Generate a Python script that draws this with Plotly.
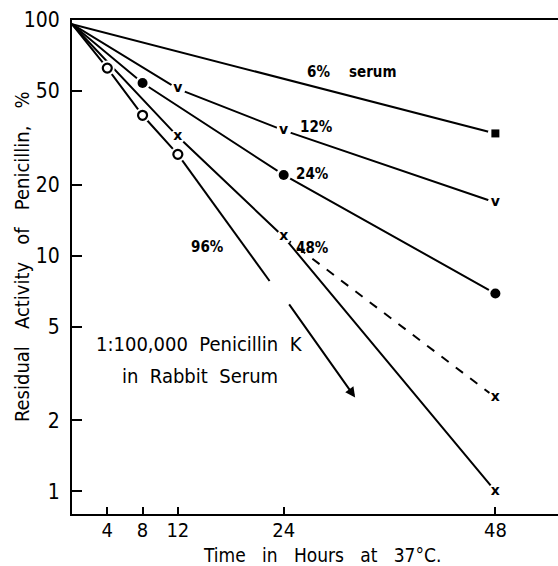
import numpy as np
import plotly.graph_objects as go

# ---- data ----
hours_6 = [0, 48]
act_6 = [96, 33]

hours_12 = [0, 12, 24, 48]
act_12 = [96, 51, 34, 16.8]

hours_24 = [0, 8, 24, 48]
act_24 = [96, 54, 22, 6.9]

hours_48 = [0, 12, 24, 48]
act_48 = [96, 32, 12, 1.0]

hours_48_dash = [24, 48]
act_48_dash = [12, 2.5]

hours_96 = [0, 4, 8, 12]
act_96 = [96, 62.5, 39.4, 26.9]

hours_96_ext = [12, 22.4]
act_96_ext = [26.9, 7.8]

arrow_96_hours = [24.5, 32.1]
arrow_96_act = [6.3, 2.5]

x_ticks = [4, 8, 12, 24, 48]
y_ticks = [1, 2, 5, 10, 20, 50, 100]

FONT = "Liberation Sans Narrow, DejaVu Sans Condensed, Arial Narrow, sans-serif"
BLACK = "black"

fig = go.Figure()

# lines
for hx, hy, dash in [
    (hours_6, act_6, "solid"),
    (hours_12, act_12, "solid"),
    (hours_24, act_24, "solid"),
    (hours_48, act_48, "solid"),
    (hours_48_dash, act_48_dash, "dash"),
    (hours_96, act_96, "solid"),
    (hours_96_ext, act_96_ext, "solid"),
]:
    fig.add_trace(go.Scatter(x=hx, y=hy, mode="lines",
                             line=dict(color=BLACK, width=2, dash=dash),
                             showlegend=False, hoverinfo="skip"))

# white gaps around markers
gap_x = hours_6[1:] + hours_12[1:] + hours_24[1:] + hours_48[1:] + hours_48_dash[1:] + hours_96[1:]
gap_y = act_6[1:] + act_12[1:] + act_24[1:] + act_48[1:] + act_48_dash[1:] + act_96[1:]
fig.add_trace(go.Scatter(x=gap_x, y=gap_y, mode="markers",
                         marker=dict(color="white", size=15, line=dict(width=0)),
                         showlegend=False, hoverinfo="skip"))

# markers
fig.add_trace(go.Scatter(x=hours_6[1:], y=act_6[1:], mode="markers",
                         marker=dict(symbol="square", color=BLACK, size=8),
                         showlegend=False))
fig.add_trace(go.Scatter(x=hours_24[1:], y=act_24[1:], mode="markers",
                         marker=dict(symbol="circle", color=BLACK, size=10),
                         showlegend=False))
fig.add_trace(go.Scatter(x=hours_96[1:], y=act_96[1:], mode="markers",
                         marker=dict(symbol="circle-open", color=BLACK, size=9,
                                     line=dict(width=2.2, color=BLACK)),
                         showlegend=False))
fig.add_trace(go.Scatter(x=hours_12[1:], y=act_12[1:], mode="text",
                         text=["v"] * (len(hours_12) - 1), textposition="middle center",
                         textfont=dict(family="DejaVu Sans", size=14, color=BLACK, weight="bold"),
                         showlegend=False))
x_pts_h = hours_48[1:] + hours_48_dash[1:]
x_pts_a = act_48[1:] + act_48_dash[1:]
fig.add_trace(go.Scatter(x=x_pts_h, y=x_pts_a, mode="text",
                         text=["x"] * len(x_pts_h), textposition="middle center",
                         textfont=dict(family="DejaVu Sans", size=14, color=BLACK, weight="bold"),
                         showlegend=False))

# arrow
fig.add_annotation(x=arrow_96_hours[1], y=np.log10(arrow_96_act[1]),
                   ax=arrow_96_hours[0], ay=np.log10(arrow_96_act[0]),
                   xref="x", yref="y", axref="x", ayref="y",
                   showarrow=True, arrowhead=2, arrowsize=1, arrowwidth=2,
                   arrowcolor=BLACK, text="")

# labels
lbl_font = dict(family="DejaVu Sans Condensed, DejaVu Sans, sans-serif", size=15, color=BLACK, weight="bold")
for txt, hx, av in [("6%", 27.9, 60.1), ("serum", 34.1, 60.1), ("12%", 27.7, 35.1),
                    ("24%", 27.3, 22.3), ("48%", 27.3, 10.8), ("96%", 15.4, 10.9)]:
    fig.add_annotation(x=hx, y=np.log10(av), xref="x", yref="y", text=txt,
                       showarrow=False, font=lbl_font)

big_font = dict(family=FONT, size=20, color=BLACK)
fig.add_annotation(x=14.5, y=np.log10(4.23), xref="x", yref="y",
                   text="1:100,000  Penicillin  K", showarrow=False, font=big_font)
fig.add_annotation(x=14.5, y=np.log10(3.08), xref="x", yref="y",
                   text="in  Rabbit  Serum", showarrow=False, font=big_font)

# axis titles
fig.add_annotation(x=0.514, y=-0.084, xref="paper", yref="paper",
                   text="Time   in   Hours   at   37°C.", showarrow=False,
                   xanchor="center", yanchor="middle",
                   font=dict(family=FONT, size=19, color=BLACK))
fig.add_annotation(x=-0.103, y=0.522, xref="paper", yref="paper",
                   text="Residual   Activity   of   Penicillin,   %", showarrow=False,
                   textangle=-90, xanchor="center", yanchor="middle",
                   font=dict(family=FONT, size=20, color=BLACK))

fig.update_xaxes(range=[0, 55.1], tickvals=x_ticks, ticktext=[str(t) for t in x_ticks],
                 ticks="inside", ticklen=7, tickwidth=2, tickcolor=BLACK,
                 showline=True, linewidth=2, linecolor=BLACK, mirror=True,
                 showgrid=False, zeroline=False, automargin=False, ticklabelstandoff=-3,
                 tickfont=dict(family=FONT, size=20, color=BLACK))
fig.update_yaxes(type="log", range=[np.log10(0.80), 2], tickvals=y_ticks,
                 ticktext=[str(t) for t in y_ticks],
                 ticks="inside", ticklen=10, tickwidth=2, tickcolor=BLACK,
                 showline=True, linewidth=2, linecolor=BLACK, mirror=False,
                 showgrid=False, zeroline=False, ticklabelstandoff=6, automargin=False,
                 tickfont=dict(family=FONT, size=21, color=BLACK))

fig.update_layout(width=558, height=566, margin=dict(l=72, r=0, t=20, b=52),
                  plot_bgcolor="white", paper_bgcolor="white", showlegend=False)

fig.write_html("out.html", config={"displayModeBar": False},
               post_script="document.body.style.margin='0';document.body.style.overflow='hidden';")
